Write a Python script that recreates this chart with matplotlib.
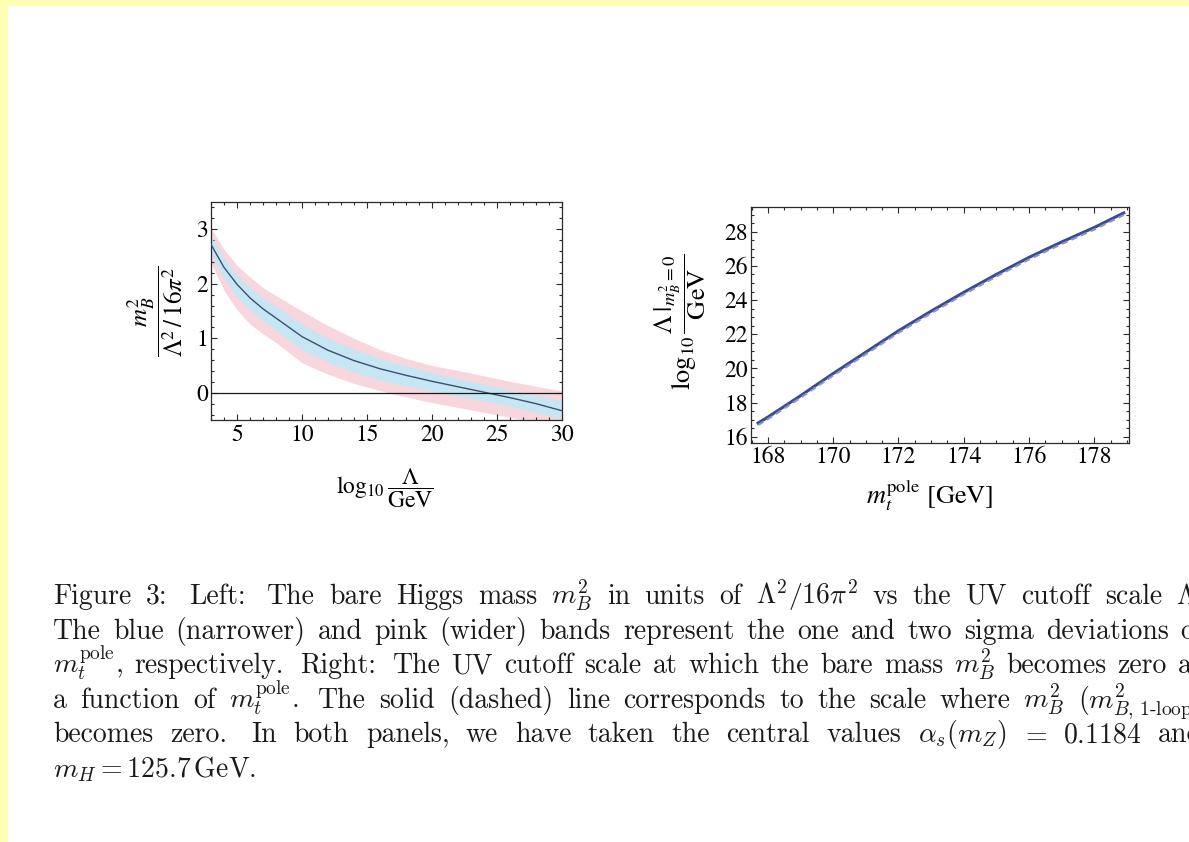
import matplotlib
matplotlib.use("Agg")
import matplotlib.pyplot as plt
from matplotlib.ticker import MultipleLocator
from matplotlib.patches import Rectangle

# ---------------- data ----------------
# Left panel: m_B^2 / (Lambda^2/16pi^2) vs log10(Lambda/GeV)
log_lambda = [3, 4, 5, 6, 7, 8, 10, 12, 14, 16, 18, 20, 22, 24, 26, 28, 30]
mb2_center = [2.72, 2.30, 1.99, 1.74, 1.54, 1.37, 1.03, 0.78, 0.59, 0.44, 0.32, 0.21, 0.11, 0.01, -0.09, -0.20, -0.33]
blue_upper = [2.86, 2.47, 2.16, 1.93, 1.74, 1.58, 1.26, 1.00, 0.80, 0.63, 0.49, 0.37, 0.26, 0.15, 0.05, -0.05, -0.15]
blue_lower = [2.55, 2.10, 1.76, 1.52, 1.32, 1.15, 0.79, 0.56, 0.38, 0.23, 0.12, 0.03, -0.06, -0.15, -0.25, -0.36, -0.48]
pink_upper = [3.02, 2.63, 2.34, 2.12, 1.93, 1.78, 1.50, 1.23, 1.00, 0.79, 0.63, 0.50, 0.41, 0.31, 0.21, 0.12, 0.03]
pink_lower = [2.38, 1.88, 1.52, 1.26, 1.08, 0.92, 0.55, 0.34, 0.17, 0.04, -0.08, -0.18, -0.27, -0.36, -0.45, -0.55, -0.65]

# Right panel: log10(Lambda|_{m_B^2=0}/GeV) vs m_t^pole
mt_pole = [167.7, 168, 169, 170, 171, 172, 173, 174, 175, 176, 177, 178, 178.9]
lam_solid = [16.80, 17.15, 18.40, 19.70, 20.95, 22.20, 23.35, 24.45, 25.50, 26.50, 27.40, 28.25, 29.10]
lam_dashed = [16.68, 17.03, 18.28, 19.58, 20.83, 22.08, 23.23, 24.33, 25.38, 26.38, 27.28, 28.13, 28.98]

left_xticks = [5, 10, 15, 20, 25, 30]
left_yticks = [0, 1, 2, 3]
right_xticks = [168, 170, 172, 174, 176, 178]
right_yticks = [16, 18, 20, 22, 24, 26, 28]

caption_lines = [
    ["Figure", "3:", "Left:", "The", "bare", "Higgs", "mass", r"$m_B^2$", "in", "units", "of",
     r"$\Lambda^2/16\pi^2$", "vs", "the", "UV", "cutoff", "scale", r"$\Lambda$."],
    ["The", "blue", "(narrower)", "and", "pink", "(wider)", "bands", "represent", "the", "one",
     "and", "two", "sigma", "deviations", "of"],
    [r"$m_t^{\mathrm{pole}}$,", "respectively.", "Right:", "The", "UV", "cutoff", "scale", "at",
     "which", "the", "bare", "mass", r"$m_B^2$", "becomes", "zero", "as"],
    ["a", "function", "of", r"$m_t^{\mathrm{pole}}$.", "The", "solid", "(dashed)", "line",
     "corresponds", "to", "the", "scale", "where", r"$m_B^2$", r"($m^2_{B,\,\mathrm{1}\text{-}\mathrm{loop}}$)"],
    ["becomes", "zero.", "In", "both", "panels,", "we", "have", "taken", "the", "central", "values",
     r"$\alpha_s(m_Z)$", r"$=$", r"$0.1184$", "and"],
]
caption_last = r"$m_H = 125.7\,\mathrm{GeV}$."

# ---------------- style ----------------
W, H = 1189, 842
plt.rcParams["font.family"] = ["STIXGeneral", "DejaVu Serif"]
plt.rcParams["mathtext.fontset"] = "stix"

fig = plt.figure(figsize=(W / 100, H / 100), dpi=100)
fig.patch.set_facecolor("white")

frame_col = "#2a2a2a"
tick_fs = 17


def style_axes(ax, xmaj, xmin, ymaj, ymin):
    for s in ax.spines.values():
        s.set_color(frame_col)
        s.set_linewidth(0.9)
    ax.xaxis.set_major_locator(MultipleLocator(xmaj))
    ax.xaxis.set_minor_locator(MultipleLocator(xmin))
    ax.yaxis.set_major_locator(MultipleLocator(ymaj))
    ax.yaxis.set_minor_locator(MultipleLocator(ymin))
    ax.tick_params(which="both", direction="in", top=True, right=True, color=frame_col,
                   labelsize=tick_fs, width=0.8)
    ax.tick_params(which="major", length=4.5)
    ax.tick_params(which="minor", length=2.2)
    ax.tick_params(axis="x", pad=3)
    ax.tick_params(axis="y", pad=2)


# ---------------- left panel ----------------
axL = fig.add_axes([211 / W, 1 - 420 / H, 351 / W, 218 / H])
axL.fill_between(log_lambda, pink_lower, pink_upper, color="#f7d6dd", lw=0, zorder=1)
axL.fill_between(log_lambda, blue_lower, blue_upper, color="#c6e6f3", lw=0, zorder=2)
axL.plot(log_lambda, mb2_center, color="#3b4f72", lw=1.0, zorder=3)
axL.axhline(0, color="#1a1a1a", lw=0.9, zorder=4)
axL.set_xlim(3, 30)
axL.set_ylim(-0.5, 3.5)
style_axes(axL, 5, 1, 1, 0.2)
axL.set_xticks(left_xticks)
axL.set_yticks(left_yticks)
axL.set_xticklabels([str(v) for v in left_xticks])
axL.set_yticklabels([str(v) for v in left_yticks])

fig.text(385 / W, 1 - 488 / H, r"$\log_{10}\dfrac{\Lambda}{\mathrm{GeV}}$", ha="center", va="center",
         fontsize=17)
fig.text(156 / W, 1 - 311 / H, r"$\dfrac{m_B^2}{\Lambda^2\,/\,16\pi^2}$", ha="center", va="center",
         rotation=90, fontsize=18)

# ---------------- right panel ----------------
axR = fig.add_axes([750.6 / W, 1 - 442.7 / H, 378.7 / W, 235.4 / H])
axR.plot(mt_pole, lam_solid, color="#3c4a8e", lw=2.2, zorder=3)
axR.plot(mt_pole, lam_dashed, color="#8397cc", lw=1.5, ls=(0, (3, 2)), zorder=4)
axR.set_xlim(167.47, 179.07)
axR.set_ylim(15.65, 29.43)
style_axes(axR, 2, 0.5, 2, 0.5)
axR.set_xticks(right_xticks)
axR.set_yticks(right_yticks)
axR.set_xticklabels([str(v) for v in right_xticks])
axR.set_yticklabels([str(v) for v in right_yticks])

fig.text(930 / W, 1 - 495 / H, r"$m_t^{\mathrm{pole}}$ [GeV]", ha="center", va="center", fontsize=19)
fig.text(680 / W, 1 - 322 / H, r"$\log_{10}\dfrac{\Lambda\,\left.\right|_{m_B^2=0}}{\mathrm{GeV}}$",
         ha="center", va="center", rotation=90, fontsize=19)

# ---------------- caption (justified) ----------------
cap_fs = 20
cap_kw = dict(fontfamily="cmr10", math_fontfamily="cm", fontsize=cap_fs, va="baseline", ha="left",
              color="#1a1a1a")
x0_px, x1_px = 53, 1203
base0, step = 604, 34.6

renderer = fig.canvas.get_renderer()
for i, words in enumerate(caption_lines):
    y_px = base0 + i * step
    texts = [fig.text(0, 1 - y_px / H, w, **cap_kw) for w in words]
    widths = [t.get_window_extent(renderer).width for t in texts]
    weights = []
    for w, nxt in zip(words[:-1], words[1:]):
        if w.endswith(":") or w.endswith("."):
            weights.append(1.5)
        elif w == r"$\alpha_s(m_Z)$" or w == r"$=$":
            weights.append(0.9)
        else:
            weights.append(1.0)
    gap_unit = max((x1_px - x0_px - sum(widths)) / sum(weights), 4.0)
    x = x0_px
    for j, (t, wd) in enumerate(zip(texts, widths)):
        t.set_x(x / W)
        if j < len(weights):
            x += wd + gap_unit * weights[j]

fig.text(x0_px / W, 1 - (base0 + 5 * step) / H, caption_last, **cap_kw)

# ---------------- scan border ----------------
fig.patches.append(Rectangle((0, 0), 8 / W, 1, transform=fig.transFigure, color="#ffffb4", lw=0, zorder=10))
fig.patches.append(Rectangle((0, 1 - 6 / H), 1, 6 / H, transform=fig.transFigure, color="#ffffb4", lw=0,
                             zorder=10))

fig.savefig("out.png", dpi=100)
